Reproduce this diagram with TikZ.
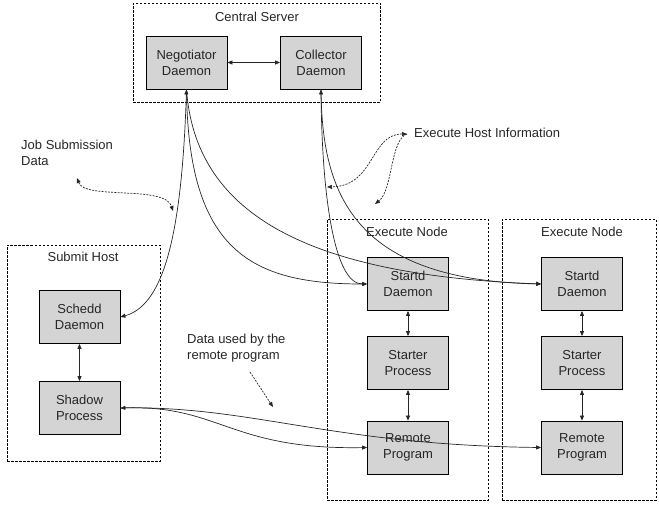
\documentclass[tikz,border=0pt]{standalone}
\usepackage{fontspec}
\setmainfont{Liberation Sans}
\usetikzlibrary{arrows.meta}
\begin{document}
\begin{tikzpicture}[x=1pt,y=-1pt,
  font=\fontsize{13}{16}\selectfont,
  >={Triangle[length=5pt,width=4pt]},
  proc/.style={draw=black,line width=0.8pt,fill=black!17,minimum width=81pt,minimum height=53pt,align=center,inner sep=0pt,text=black!85},
  frame/.style={draw=black,line width=0.7pt,dash pattern=on 2.5pt off 1.5pt,inner sep=0pt},
  lbl/.style={inner sep=0pt,text=black!85},
  conn/.style={line width=0.7pt,black!85},
  dconn/.style={line width=0.7pt,black!85,dash pattern=on 2pt off 1.2pt}]
\useasboundingbox (0,0) rectangle (659,506);
% frames
\node[frame,minimum width=247pt,minimum height=99pt] (cs) at (256.5,52.5) {};
\node[frame,minimum width=153pt,minimum height=216pt] (sh) at (83.5,353) {};
\node[frame,minimum width=161pt,minimum height=281pt] (en1) at (407.5,359.5) {};
\node[frame,minimum width=154pt,minimum height=281pt] (en2) at (579,359.5) {};
\node[lbl] (csl) at (257,17) {Central Server};
\node[lbl] (shl) at (83,257) {Submit Host};
\node[lbl] (en1l) at (407,232) {Execute Node};
\node[lbl] (en2l) at (582,232) {Execute Node};
% processes
\node[proc] (neg) at (186.5,62.5) {Negotiator\\Daemon};
\node[proc] (coll) at (321,62.5) {Collector\\Daemon};
\node[proc] (schedd) at (79.5,317) {Schedd\\Daemon};
\node[proc] (shadow) at (79.5,408) {Shadow\\Process};
\node[proc] (startdA) at (408,284) {Startd\\Daemon};
\node[proc] (starterA) at (408,363) {Starter\\Process};
\node[proc] (remoteA) at (408,447.5) {Remote\\Program};
\node[proc] (startdB) at (582,284) {Startd\\Daemon};
\node[proc] (starterB) at (582,363) {Starter\\Process};
\node[proc] (remoteB) at (582,447.5) {Remote\\Program};
% straight connectors
\draw[conn,<->] (neg) -- (coll);
\draw[conn,<->] (schedd) -- (shadow);
\draw[conn,<->] (startdA) -- (starterA);
\draw[conn,<->] (starterA) -- (remoteA);
\draw[conn,<->] (startdB) -- (starterB);
\draw[conn,<->] (starterB) -- (remoteB);
% curved connectors
\draw[conn,<->] (neg.south) .. controls (182,230) and (165,305) .. (schedd.east);
\draw[conn,->] (neg.south) .. controls (188,250) and (250,284) .. (startdA.west);
\draw[conn,->] (neg.south) .. controls (195,210) and (300,275) .. (startdB.west);
\draw[conn,<->] (coll.south) .. controls (322,200) and (335,284) .. (startdA.west);
\draw[conn,->] (coll.south) .. controls (322,190) and (350,280) .. (startdB.west);
\draw[conn,<->] (shadow.east) .. controls (220,405) and (230,450) .. (remoteA.west);
\draw[conn,->] (shadow.east) .. controls (250,405) and (330,445) .. (remoteB.west);
% annotation labels
\node[lbl,align=left,anchor=west] (jsd) at (21,153) {Job Submission\\Data};
\node[lbl,anchor=west] (ehi) at (414,133) {Execute Host Information};
\node[lbl,align=left,anchor=west] (dur) at (187,348) {Data used by the\\remote program};
% dashed annotation arrows
\coordinate (j1) at (77,178);
\coordinate (j2) at (173,211);
\draw[dconn,<->] (j1) .. controls (85,200) and (165,185) .. (j2);
\coordinate (h0) at (407,134);
\coordinate (h1) at (327,187);
\coordinate (h2) at (375,204);
\draw[dconn,<->] (h0) .. controls (370,134) and (375,186) .. (h1);
\draw[dconn,->] (h0) .. controls (390,140) and (393,190) .. (h2);
\coordinate (d1) at (250,372);
\coordinate (d2) at (273,407);
\draw[dconn,->] (d1) -- (d2);
\end{tikzpicture}
\end{document}
